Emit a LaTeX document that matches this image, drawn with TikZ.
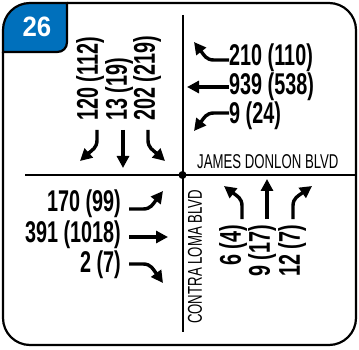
\documentclass[tikz,border=0pt]{standalone}
\usepackage{fontspec}
\usepackage{tikz}
\usetikzlibrary{arrows.meta}
\newfontfamily\narrowsans[FakeStretch=0.66]{Liberation Sans}
\newfontfamily\badgesans[FakeStretch=0.92]{Liberation Sans}
\definecolor{badgeblue}{RGB}{0,112,188}

\begin{document}
\begin{tikzpicture}[x=1pt,y=-1pt,
	vol/.style={inner sep=0pt,font=\narrowsans\bfseries\fontsize{30}{30}\selectfont},
	street/.style={inner sep=0pt,font=\narrowsans\fontsize{20}{20}\selectfont},
	move/.style={-{Triangle[length=12pt,width=12pt]},line width=3.4pt},
	road/.style={line width=2pt}]
\useasboundingbox (0,0) rectangle (359,350);
% frame and number badge
\draw[line width=2.2pt,rounded corners=27pt] (67,3) -| (356,345) -| (3,52);
\filldraw[fill=badgeblue,line width=2.2pt] (3,52) -- (3,30) .. controls (3,15) and (15,3) .. (30,3)
	-- (67,3) -- (67,42) .. controls (67,48) and (63,52) .. (57,52) -- cycle;
\node[text=white,inner sep=0pt,font=\badgesans\bfseries\fontsize{28}{28}\selectfont] (num) at (37,27) {26};
% the two roads
\draw[road] (182.5,15) -- (182.5,332);
\draw[road] (25,175) -- (356,175);
\fill (182.5,175) circle[radius=4pt];
\node[street,anchor=south west] (james) at (197,169) {JAMES DONLON BLVD};
\node[street,rotate=90,anchor=west] (contra) at (195,324) {CONTRA LOMA BLVD};
% north leg
\node[vol,rotate=90,anchor=west] (n1) at (90,121) {120 (112)};
\node[vol,rotate=90,anchor=west] (n2) at (119,121) {13 (19)};
\node[vol,rotate=90,anchor=west] (n3) at (147,121) {202 (219)};
\draw[move] (97,130) -- (97,140) .. controls (97,148) and (92,150) .. (80,161);
\draw[move] (123,130) -- (123,168);
\draw[move] (148,130) -- (148,140) .. controls (148,148) and (153,150) .. (165,161);
% east leg
\node[vol,anchor=west] (e1) at (229,58) {210 (110)};
\node[vol,anchor=west] (e2) at (229,87) {939 (538)};
\node[vol,anchor=west] (e3) at (229,116) {9 (24)};
\draw[move] (229,60) -- (214,60) .. controls (206,60) and (204,55) .. (194,42);
\draw[move] (229,87) -- (187,87);
\draw[move] (229,113) -- (214,113) .. controls (206,113) and (204,118) .. (194,131);
% west leg
\node[vol,anchor=east] (w1) at (121,204) {170 (99)};
\node[vol,anchor=east] (w2) at (121,235) {391 (1018)};
\node[vol,anchor=east] (w3) at (121,265) {2 (7)};
\draw[move] (129,209) -- (143,209) .. controls (151,209) and (153,204) .. (163,191);
\draw[move] (129,237) -- (168,237);
\draw[move] (129,264) -- (143,264) .. controls (151,264) and (153,269) .. (163,283);
% south leg
\node[vol,rotate=90,anchor=east] (s1) at (233,225) {6 (4)};
\node[vol,rotate=90,anchor=east] (s2) at (262,225) {9 (17)};
\node[vol,rotate=90,anchor=east] (s3) at (292,225) {12 (7)};
\draw[move] (242,219) -- (242,206) .. controls (242,198) and (237,196) .. (224,186);
\draw[move] (267,219) -- (267,179);
\draw[move] (293,219) -- (293,206) .. controls (293,198) and (298,196) .. (312,186);
\end{tikzpicture}
\end{document}
